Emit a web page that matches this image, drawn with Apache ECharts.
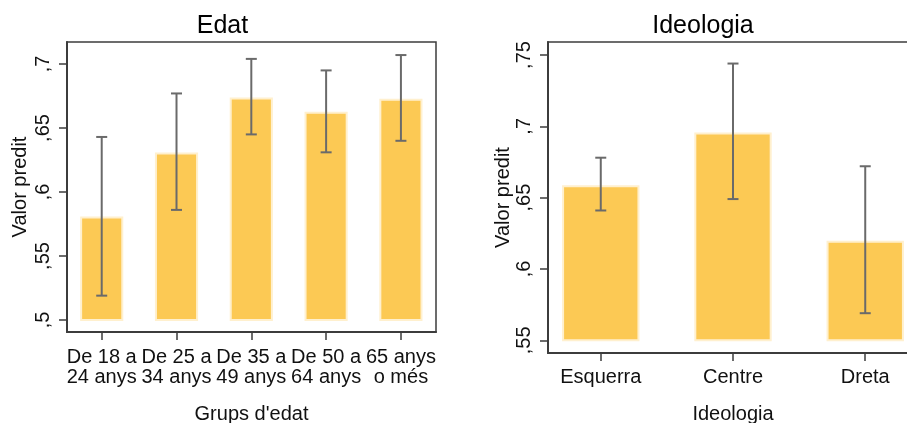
<!DOCTYPE html>
<html>
<head>
<meta charset="utf-8">
<script src="https://cdn.jsdelivr.net/npm/echarts@6/dist/echarts.min.js"></script>
<style>
  html, body { margin: 0; padding: 0; background: #fff; }
  #chart { width: 907px; height: 423px; }
</style>
</head>
<body>
<div id="chart"></div>
<script>
// Predicted values by age group
const ageGroups = ['De 18 a\n24 anys', 'De 25 a\n34 anys', 'De 35 a\n49 anys', 'De 50 a\n64 anys', '65 anys\no més'];
const agePred = [0.580, 0.630, 0.673, 0.662, 0.672];
const ageLow  = [0.519, 0.586, 0.645, 0.631, 0.640];
const ageHigh = [0.643, 0.677, 0.704, 0.695, 0.707];
const ageTicks = [0.5, 0.55, 0.6, 0.65, 0.7];
const ageBase = 0.5;

// Predicted values by ideology
const ideoGroups = ['Esquerra', 'Centre', 'Dreta'];
const ideoPred = [0.658, 0.695, 0.619];
const ideoLow  = [0.641, 0.649, 0.569];
const ideoHigh = [0.678, 0.744, 0.672];
const ideoTicks = [0.55, 0.6, 0.65, 0.7, 0.75];
const ideoBase = 0.55;

const FONT = '"Liberation Sans", Arial, sans-serif';
const BAR_FILL = '#FCC954';
const BAR_EDGE = '#FFF0CE';
const ERR_COLOR = '#6A6A6A';
const FRAME = '#3C3C3C';

const commaLabel = v => ',' + String(v).slice(2);

function barRenderer(widthUnits) {
  return function (params, api) {
    const x = api.value(0);
    const top = api.coord([x, api.value(1)]);
    const bottom = api.coord([x, api.value(2)]);
    const w = api.size([widthUnits, 0])[0];
    return {
      type: 'rect',
      shape: { x: top[0] - w / 2, y: top[1], width: w, height: bottom[1] - top[1] },
      style: { fill: BAR_FILL, stroke: BAR_EDGE, lineWidth: 2 }
    };
  };
}

function errRenderer(params, api) {
  const x = api.value(0);
  const lo = api.coord([x, api.value(1)]);
  const hi = api.coord([x, api.value(2)]);
  const cap = 5.5;
  const style = { stroke: ERR_COLOR, lineWidth: 2 };
  return {
    type: 'group',
    children: [
      { type: 'line', shape: { x1: lo[0], y1: lo[1], x2: hi[0], y2: hi[1] }, style },
      { type: 'line', shape: { x1: hi[0] - cap, y1: hi[1], x2: hi[0] + cap, y2: hi[1] }, style },
      { type: 'line', shape: { x1: lo[0] - cap, y1: lo[1], x2: lo[0] + cap, y2: lo[1] }, style }
    ]
  };
}

function xAxisFor(gridIndex, cats, min, max, margin, nameText, nameGap) {
  const idx = cats.map((_, i) => i);
  return {
    type: 'value', gridIndex, min, max,
    name: nameText, nameLocation: 'middle', nameGap,
    nameTextStyle: { fontFamily: FONT, fontSize: 20, color: '#111', lineHeight: 20 },
    axisLine: { show: true, onZero: false, lineStyle: { color: FRAME, width: 2 } },
    axisTick: { show: true, length: 8, customValues: idx, lineStyle: { color: FRAME, width: 1.5 } },
    axisLabel: {
      customValues: idx, margin,
      formatter: v => cats[Math.round(v)] || '',
      fontFamily: FONT, fontSize: 20, color: '#111', lineHeight: 20
    },
    splitLine: { show: false }
  };
}

function yAxisFor(gridIndex, ticks, min, max, nameGap) {
  return {
    type: 'value', gridIndex, min, max,
    name: 'Valor predit', nameLocation: 'middle', nameGap,
    nameTextStyle: { fontFamily: FONT, fontSize: 20, color: '#111', lineHeight: 20 },
    axisLine: { show: true, onZero: false, lineStyle: { color: FRAME, width: 2 } },
    axisTick: { show: true, length: 8, customValues: ticks, lineStyle: { color: FRAME, width: 1.5 } },
    axisLabel: {
      customValues: ticks, rotate: 90, margin: 14,
      formatter: commaLabel,
      fontFamily: FONT, fontSize: 20, color: '#111'
    },
    splitLine: { show: false }
  };
}

const chart = echarts.init(document.getElementById('chart'), null, { renderer: 'canvas' });
chart.setOption({
  animation: false,
  backgroundColor: '#fff',
  title: [
    { text: 'Edat', left: 222.5, top: 14, padding: 0, textAlign: 'center',
      textStyle: { fontFamily: FONT, fontSize: 25, fontWeight: 'normal', color: '#000', lineHeight: 25 } },
    { text: 'Ideologia', left: 703, top: 14, padding: 0, textAlign: 'center',
      textStyle: { fontFamily: FONT, fontSize: 25, fontWeight: 'normal', color: '#000', lineHeight: 25 } }
  ],
  grid: [
    { left: 67, top: 42, width: 369, height: 290, outerBoundsMode: 'none', containLabel: false,
      show: true, borderColor: FRAME, borderWidth: 1.5, backgroundColor: '#fff' },
    { left: 548, top: 42, width: 370, height: 311, outerBoundsMode: 'none', containLabel: false,
      show: true, borderColor: FRAME, borderWidth: 1.5, backgroundColor: '#fff' }
  ],
  xAxis: [
    xAxisFor(0, ageGroups, -0.464, 4.469, 15, "Grups d'edat", 72),
    xAxisFor(1, ideoGroups, -0.399, 2.399, 14, 'Ideologia', 51)
  ],
  yAxis: [
    yAxisFor(0, ageTicks, 0.4906, 0.7172, 37),
    yAxisFor(1, ideoTicks, 0.5411, 0.7591, 35)
  ],
  series: [
    { type: 'custom', xAxisIndex: 0, yAxisIndex: 0, renderItem: barRenderer(0.55),
      encode: { x: 0, y: 1 }, data: agePred.map((v, i) => [i, v, ageBase]) },
    { type: 'custom', xAxisIndex: 0, yAxisIndex: 0, renderItem: errRenderer,
      encode: { x: 0, y: [1, 2] }, data: ageLow.map((v, i) => [i, v, ageHigh[i]]) },
    { type: 'custom', xAxisIndex: 1, yAxisIndex: 1, renderItem: barRenderer(0.57),
      encode: { x: 0, y: 1 }, data: ideoPred.map((v, i) => [i, v, ideoBase]) },
    { type: 'custom', xAxisIndex: 1, yAxisIndex: 1, renderItem: errRenderer,
      encode: { x: 0, y: [1, 2] }, data: ideoLow.map((v, i) => [i, v, ideoHigh[i]]) }
  ]
});
</script>
</body>
</html>
